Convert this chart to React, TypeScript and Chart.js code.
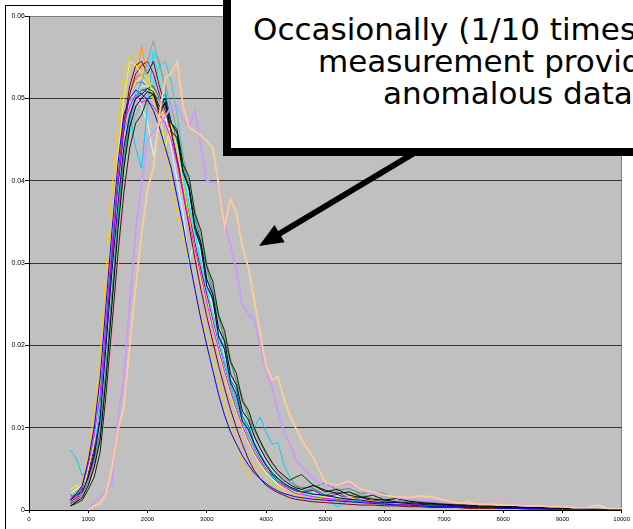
import React, { useEffect, useRef } from 'react';
import { Chart, registerables } from 'chart.js';

Chart.register(...registerables);

// x positions of the measurements
const X_VALUES = [
  700, 800, 900, 1000, 1100, 1200, 1300, 1400, 1500, 1600,
  1700, 1800, 1900, 2000, 2100, 2200, 2300, 2400, 2500, 2600,
  2700, 2800, 2900, 3000, 3100, 3200, 3300, 3400, 3500, 3600,
  3700, 3800, 3900, 4000, 4100, 4200, 4300, 4400, 4500, 4600,
  4800, 5000, 5200, 5400, 5600, 5800, 6000, 6200, 6400, 6600,
  6800, 7000, 7200, 7400, 7600, 7800, 8000, 8200, 8400, 8600,
  8800, 9000, 9200, 9400, 9600, 9800, 10000,
];

const X_TICK_LABELS = ['0', '1000', '2000', '3000', '4000', '5000', '6000', '7000', '8000', '9000', '10000'];
const Y_TICK_LABELS = ['0', '0.01', '0.02', '0.03', '0.04', '0.05', '0.06'];

// all series values below in units of 0.0001
const VALUE_UNIT = 0.0001;

const runNavy = [
  12, 18, 22, 40, 65, 110, 200, 290, 370, 440,
  480, 500, 505, 512, 508, 490, 500, 470, 458, 412,
  392, 342, 320, 272, 258, 210, 195, 155, 140, 108,
  98, 80, 66, 54, 44, 38, 32, 28, 25, 22,
  19, 18, 15, 13, 12, 10, 9, 9, 8, 7,
  6, 6, 5, 4, 4, 4, 3, 3, 3, 2,
  2, 2, 2, 1, 1, 1, 1,
];
const runMagenta = [
  20, 10, 30, 55, 90, 140, 230, 320, 400, 470,
  490, 505, 495, 498, 490, 480, 470, 450, 420, 385,
  350, 318, 285, 252, 222, 195, 168, 144, 122, 102,
  85, 70, 58, 48, 40, 33, 28, 24, 20, 19,
  16, 14, 13, 11, 10, 9, 8, 7, 7, 6,
  5, 5, 4, 4, 3, 3, 3, 3, 2, 2,
  2, 2, 1, 1, 1, 1, 1,
];
const runYellow = [
  25, 30, 20, 50, 85, 150, 250, 345, 430, 500,
  545, 540, 530, 525, 505, 480, 440, 470, 440, 395,
  355, 318, 280, 255, 225, 192, 165, 140, 120, 100,
  82, 68, 55, 45, 38, 30, 27, 24, 20, 22,
  18, 16, 14, 15, 12, 11, 9, 8, 9, 7,
  6, 6, 5, 11, 5, 4, 3, 3, 3, 4,
  2, 2, 2, 2, 1, 1, 1,
];
const runCyan = [
  18, 22, 28, 50, 80, 120, 200, 290, 380, 440,
  480, 505, 520, 535, 560, 520, 500, 470, 440, 405,
  370, 335, 300, 268, 236, 206, 178, 150, 128, 108,
  90, 74, 60, 50, 41, 34, 29, 25, 22, 20,
  17, 15, 14, 12, 11, 10, 9, 8, 7, 6,
  6, 5, 5, 4, 4, 3, 3, 3, 2, 2,
  2, 2, 2, 1, 1, 1, 1,
];
const runPurple = [
  10, 15, 25, 45, 75, 115, 205, 300, 390, 460,
  505, 530, 540, 545, 530, 505, 485, 460, 425, 392,
  358, 325, 292, 262, 232, 204, 176, 150, 128, 108,
  90, 75, 61, 50, 42, 35, 30, 26, 23, 21,
  24, 16, 19, 13, 15, 11, 10, 9, 8, 7,
  6, 6, 5, 5, 4, 4, 3, 3, 3, 2,
  2, 2, 2, 2, 1, 1, 1,
];
const runMaroon = [
  8, 12, 20, 40, 70, 120, 210, 310, 400, 470,
  515, 540, 545, 530, 545, 515, 490, 460, 425, 385,
  345, 305, 268, 235, 205, 175, 148, 122, 100, 80,
  62, 48, 38, 30, 25, 21, 18, 15, 13, 12,
  10, 9, 8, 7, 6, 6, 5, 5, 4, 4,
  3, 3, 3, 2, 2, 2, 2, 2, 1, 1,
  1, 1, 1, 1, 1, 0, 0,
];
const runTeal = [
  15, 20, 25, 40, 60, 95, 170, 260, 350, 425,
  475, 500, 510, 512, 515, 500, 505, 470, 458, 410,
  390, 340, 320, 272, 255, 212, 196, 158, 146, 114,
  102, 82, 68, 56, 46, 39, 33, 28, 25, 22,
  26, 18, 22, 14, 17, 11, 13, 9, 10, 7,
  8, 6, 6, 5, 5, 4, 4, 3, 3, 3,
  2, 2, 2, 2, 2, 1, 1,
];
const runBlue = [
  12, 20, 30, 60, 100, 160, 250, 340, 420, 480,
  500, 510, 505, 498, 485, 465, 440, 415, 380, 345,
  305, 268, 232, 200, 170, 140, 115, 95, 80, 66,
  55, 45, 38, 32, 27, 23, 20, 18, 16, 15,
  13, 12, 11, 10, 9, 8, 7, 6, 6, 5,
  4, 4, 4, 3, 3, 3, 2, 2, 2, 2,
  1, 1, 1, 1, 1, 0, 0,
];
const runSky = [
  73, 62, 42, 48, 60, 130, 230, 320, 400, 460,
  480, 440, 415, 490, 555, 545, 510, 470, 440, 410,
  372, 338, 300, 265, 235, 205, 180, 155, 135, 115,
  98, 100, 113, 95, 80, 82, 55, 40, 30, 25,
  20, 15, 4, 12, 11, 10, 8, 7, 6, 5,
  5, 4, 4, 3, 3, 3, 2, 2, 2, 2,
  1, 1, 1, 1, 1, 1, 1,
];
const runTurquoise = [
  10, 15, 25, 50, 85, 130, 215, 305, 395, 460,
  500, 505, 490, 470, 430, 470, 480, 440, 400, 360,
  300, 330, 290, 258, 228, 200, 172, 148, 126, 106,
  88, 73, 60, 49, 41, 34, 29, 25, 22, 20,
  18, 16, 14, 13, 12, 10, 9, 8, 8, 7,
  6, 6, 5, 5, 4, 4, 3, 3, 3, 2,
  2, 2, 2, 2, 1, 1, 1,
];
const runLightGreen = [
  10, 12, 20, 38, 62, 95, 175, 270, 360, 430,
  480, 505, 515, 515, 510, 500, 488, 470, 440, 410,
  378, 342, 308, 276, 246, 216, 188, 162, 140, 119,
  100, 84, 70, 58, 48, 40, 34, 29, 26, 23,
  21, 19, 17, 15, 14, 13, 12, 11, 10, 9,
  8, 8, 7, 6, 6, 5, 5, 4, 4, 3,
  3, 3, 2, 3, 6, 2, 1,
];
const runLightYellow = [
  20, 25, 30, 50, 80, 120, 200, 295, 385, 455,
  500, 520, 525, 515, 505, 492, 475, 452, 420, 388,
  352, 318, 285, 252, 222, 194, 168, 142, 121, 100,
  84, 68, 56, 46, 38, 32, 27, 24, 21, 19,
  17, 15, 14, 12, 11, 10, 9, 8, 8, 7,
  6, 6, 5, 5, 4, 4, 3, 3, 3, 2,
  2, 2, 2, 2, 1, 1, 1,
];
const runPaleBlue = [
  15, 18, 22, 42, 68, 105, 185, 280, 368, 440,
  490, 515, 525, 528, 520, 508, 495, 475, 445, 415,
  380, 346, 312, 280, 250, 220, 192, 165, 142, 120,
  101, 85, 70, 58, 48, 40, 34, 29, 26, 23,
  21, 18, 16, 15, 13, 12, 11, 10, 9, 8,
  7, 7, 6, 5, 5, 4, 4, 4, 3, 3,
  3, 2, 2, 2, 2, 1, 1,
];
const runRose = [
  5, 8, 12, 25, 45, 70, 120, 200, 290, 370,
  430, 470, 495, 505, 500, 495, 485, 470, 448, 420,
  390, 360, 328, 296, 265, 235, 206, 180, 155, 132,
  112, 95, 80, 66, 55, 46, 39, 33, 28, 24,
  22, 20, 18, 17, 15, 14, 13, 12, 11, 10,
  9, 8, 8, 7, 9, 12, 15, 8, 5, 4,
  3, 3, 2, 2, 2, 1, 1,
];
const runGold = [
  10, 20, 35, 70, 120, 190, 290, 390, 470, 530,
  552, 550, 540, 520, 495, 465, 435, 400, 360, 330,
  300, 268, 238, 208, 182, 155, 125, 100, 80, 55,
  40, 55, 45, 38, 32, 27, 23, 20, 18, 16,
  14, 12, 11, 10, 9, 8, 7, 6, 6, 5,
  5, 4, 4, 3, 3, 3, 2, 2, 2, 2,
  1, 1, 1, 1, 1, 1, 1,
];
const runOrange = [
  15, 20, 25, 45, 75, 120, 205, 300, 390, 455,
  495, 515, 565, 520, 500, 490, 475, 455, 425, 395,
  360, 325, 290, 260, 230, 200, 172, 148, 125, 105,
  88, 72, 60, 48, 40, 34, 28, 25, 22, 20,
  18, 16, 14, 13, 12, 11, 10, 9, 8, 7,
  6, 6, 5, 5, 4, 4, 4, 3, 3, 3,
  2, 2, 2, 2, 1, 1, 1,
];
const runDarkOrange = [
  12, 15, 28, 48, 78, 125, 215, 310, 398, 465,
  505, 525, 530, 522, 512, 498, 480, 458, 428, 395,
  360, 326, 292, 262, 232, 202, 175, 150, 128, 108,
  90, 74, 61, 50, 42, 35, 30, 26, 23, 21,
  19, 17, 15, 14, 13, 12, 11, 10, 9, 8,
  7, 7, 6, 5, 5, 4, 4, 3, 3, 3,
  2, 2, 2, 2, 1, 1, 1,
];
const runGray = [
  5, 10, 18, 35, 58, 90, 165, 255, 345, 420,
  470, 500, 520, 545, 570, 540, 515, 490, 460, 430,
  398, 365, 332, 300, 270, 240, 212, 185, 160, 138,
  118, 100, 84, 70, 58, 48, 40, 34, 29, 25,
  30, 22, 26, 18, 20, 14, 16, 11, 13, 9,
  10, 8, 7, 6, 6, 5, 5, 4, 4, 3,
  3, 3, 2, 2, 2, 1, 1,
];
const runSeaGreen = [
  8, 12, 20, 35, 58, 92, 170, 262, 352, 428,
  478, 502, 510, 508, 505, 498, 488, 472, 448, 420,
  390, 358, 325, 294, 264, 234, 206, 180, 156, 134,
  114, 97, 82, 68, 57, 48, 40, 34, 30, 27,
  28, 33, 24, 26, 20, 22, 20, 14, 12, 10,
  9, 8, 7, 6, 5, 5, 4, 4, 3, 3,
  3, 2, 2, 2, 2, 1, 1,
];
const runDarkGreen = [
  5, 8, 12, 25, 40, 70, 140, 225, 310, 385,
  440, 470, 480, 500, 505, 480, 495, 470, 462, 420,
  405, 360, 340, 296, 278, 236, 218, 180, 166, 132,
  122, 100, 84, 70, 58, 48, 42, 36, 40, 43,
  30, 22, 25, 18, 15, 18, 12, 10, 9, 8,
  7, 6, 6, 5, 5, 4, 4, 4, 3, 4,
  3, 2, 2, 2, 2, 1, 1,
];
const runBlack = [
  5, 10, 15, 30, 52, 85, 160, 250, 340, 415,
  465, 490, 500, 508, 505, 485, 495, 460, 452, 410,
  392, 345, 325, 280, 262, 220, 205, 165, 152, 120,
  110, 90, 75, 62, 51, 43, 36, 31, 27, 25,
  30, 24, 20, 22, 16, 13, 12, 14, 11, 9,
  8, 7, 6, 6, 5, 5, 4, 4, 3, 3,
  3, 2, 2, 2, 2, 1, 1,
];
const runRoyalBlue = [
  10, 15, 25, 48, 80, 125, 215, 310, 398, 462,
  500, 518, 520, 515, 505, 492, 475, 452, 422, 390,
  355, 320, 286, 255, 225, 196, 170, 145, 124, 104,
  87, 72, 59, 48, 40, 34, 29, 25, 22, 20,
  18, 16, 14, 13, 12, 11, 10, 9, 8, 7,
  6, 6, 5, 5, 4, 4, 3, 3, 3, 2,
  2, 2, 2, 1, 1, 1, 1,
];
const runAqua = [
  10, 15, 22, 40, 65, 100, 180, 270, 355, 420,
  460, 480, 495, 505, 515, 540, 545, 520, 480, 430,
  390, 352, 316, 282, 250, 220, 192, 165, 142, 120,
  101, 85, 70, 58, 48, 40, 34, 29, 26, 23,
  21, 18, 16, 15, 13, 12, 11, 10, 9, 8,
  7, 7, 6, 5, 5, 4, 4, 4, 3, 3,
  3, 2, 2, 2, 2, 1, 1,
];
// the anomalous measurements
const runAnomalyLavender = [
  null, null, null, 0, 10, 15, 22, 33, 110, 160,
  250, 340, 395, 450, 460, 468, 478, 490, 492, 475,
  465, 486, 440, 400, 398, 397, 350, 322, 290, 250,
  238, 232, 200, 168, 150, 120, 95, 80, 62, 52,
  38, 28, 30, 32, 24, 20, 18, 15, 13, 12,
  11, 10, 9, 8, 7, 7, 6, 6, 5, 5,
  4, 4, 3, 3, 3, 2, 2,
];
const runAnomalyPeach = [
  null, null, null, 0, 5, 8, 20, 50, 97, 125,
  200, 270, 335, 390, 415, 480, 525, 530, 545, 490,
  465, 460, 455, 448, 440, 395, 345, 378, 360, 320,
  295, 255, 215, 175, 158, 162, 135, 115, 100, 85,
  63, 33, 30, 35, 25, 22, 18, 16, 15, 17,
  16, 12, 9, 8, 7, 7, 6, 6, 5, 5,
  4, 4, 3, 3, 3, 2, 2,
];

type Series = { label: string; color: string; width: number; values: (number | null)[] };

const SERIES: Series[] = [
  { label: 'Run A', color: '#FFCC99', width: 1.8, values: runAnomalyPeach },
  { label: 'Run B', color: '#CC99FF', width: 1.8, values: runAnomalyLavender },
  { label: 'Run 1', color: '#000000', width: 1, values: runBlack },
  { label: 'Run 2', color: '#003300', width: 1, values: runDarkGreen },
  { label: 'Run 3', color: '#000080', width: 1, values: runNavy },
  { label: 'Run 4', color: '#969696', width: 1, values: runGray },
  { label: 'Run 5', color: '#339966', width: 1, values: runSeaGreen },
  { label: 'Run 6', color: '#0000FF', width: 1, values: runBlue },
  { label: 'Run 7', color: '#FF00FF', width: 1, values: runMagenta },
  { label: 'Run 8', color: '#FFFF00', width: 1, values: runYellow },
  { label: 'Run 9', color: '#00FFFF', width: 1, values: runCyan },
  { label: 'Run 10', color: '#800080', width: 1, values: runPurple },
  { label: 'Run 11', color: '#800000', width: 1, values: runMaroon },
  { label: 'Run 12', color: '#008080', width: 1, values: runTeal },
  { label: 'Run 13', color: '#00CCFF', width: 1, values: runSky },
  { label: 'Run 14', color: '#CCFFFF', width: 1, values: runTurquoise },
  { label: 'Run 15', color: '#CCFFCC', width: 1, values: runLightGreen },
  { label: 'Run 16', color: '#FFFF99', width: 1, values: runLightYellow },
  { label: 'Run 17', color: '#99CCFF', width: 1, values: runPaleBlue },
  { label: 'Run 18', color: '#FF99CC', width: 1, values: runRose },
  { label: 'Run 19', color: '#FFCC00', width: 1, values: runGold },
  { label: 'Run 20', color: '#FF9900', width: 1, values: runOrange },
  { label: 'Run 21', color: '#FF6600', width: 1, values: runDarkOrange },
  { label: 'Run 22', color: '#3366FF', width: 1, values: runRoyalBlue },
  { label: 'Run 23', color: '#33CCCC', width: 1, values: runAqua },
];

const NOTE_LINES = ['Occasionally (1/10 times) a', 'measurement provides', 'anomalous data'];

export default function App() {
  const ref = useRef<HTMLCanvasElement>(null);

  useEffect(() => {
    const canvas = ref.current;
    if (!canvas) return;

    const plotBackground = {
      id: 'plotBackground',
      beforeDraw(chart: any) {
        const { ctx, chartArea: a } = chart;
        ctx.save();
        ctx.fillStyle = '#C0C0C0';
        ctx.fillRect(a.left, a.top, a.right - a.left, a.bottom - a.top);
        ctx.strokeStyle = '#808080';
        ctx.lineWidth = 1;
        ctx.beginPath();
        const rx = Math.round(a.right) - 0.5;
        ctx.moveTo(rx, a.top);
        ctx.lineTo(rx, a.bottom);
        ctx.stroke();
        ctx.strokeStyle = '#000000';
        ctx.strokeRect(5.5, 5.5, 900, 900);
        ctx.restore();
      },
    };

    const chart = new Chart(canvas, {
      type: 'line',
      data: {
        labels: X_VALUES,
        datasets: SERIES.map((s) => ({
          label: s.label,
          data: s.values.map((v) => (v == null ? null : v * VALUE_UNIT)),
          borderColor: s.color,
          backgroundColor: s.color,
          borderWidth: s.width,
          pointRadius: 0,
          pointHoverRadius: 0,
          tension: 0,
          fill: false,
          spanGaps: false,
        })),
      },
      options: {
        responsive: false,
        animation: false,
        devicePixelRatio: 1,
        events: [],
        layout: { padding: { top: 16, right: 10, left: 0, bottom: 0 } },
        plugins: { legend: { display: false }, tooltip: { enabled: false } },
        scales: {
          x: {
            type: 'linear',
            min: 0,
            max: 10000,
            afterFit(scale: any) {
              scale.height = 19;
            },
            ticks: {
              stepSize: 1000,
              autoSkip: false,
              maxRotation: 0,
              padding: 3,
              color: '#000000',
              font: { family: 'Liberation Sans', size: 6 },
              callback: (_v: any, i: number) => X_TICK_LABELS[i],
            },
            grid: { drawOnChartArea: false, tickLength: 3, color: '#000000' },
            border: { color: '#000000' },
          },
          y: {
            min: 0,
            max: 0.06,
            afterFit(scale: any) {
              scale.width = 29;
            },
            ticks: {
              stepSize: 0.01,
              padding: 0,
              color: '#000000',
              font: { family: 'Liberation Sans', size: 7 },
              callback: (_v: any, i: number) => Y_TICK_LABELS[i],
            },
            grid: {
              color: (ctx: any) => (ctx.index === 6 ? '#808080' : '#333333'),
              tickColor: '#000000',
              tickLength: 4,
            },
            border: { color: '#000000' },
          },
        },
      },
      plugins: [plotBackground],
    });

    return () => chart.destroy();
  }, []);

  const lineStyle = (left: number, top: number): React.CSSProperties => ({
    position: 'absolute',
    left,
    top,
    fontFamily: '"DejaVu Sans", sans-serif',
    fontSize: 31,
    lineHeight: '32px',
    whiteSpace: 'nowrap',
    color: '#000',
  });

  return (
    <div
      style={{
        position: 'fixed',
        left: 0,
        top: 0,
        width: 633,
        height: 529,
        overflow: 'hidden',
        background: '#fff',
      }}
    >
      <canvas
        ref={ref}
        width={633}
        height={529}
        style={{ position: 'absolute', left: 0, top: 0, width: 633, height: 529 }}
      />
      <svg
        width={633}
        height={529}
        style={{ position: 'absolute', left: 0, top: 0 }}
      >
        <line x1={431} y1={143} x2={279} y2={234} stroke="#000" strokeWidth={6} />
        <polygon points="259,246 274.5,225.1 284.7,242.3" fill="#000" />
      </svg>
      <div
        style={{
          position: 'absolute',
          left: 223,
          top: -20,
          width: 700,
          height: 176,
          boxSizing: 'border-box',
          background: '#fff',
          borderLeft: '8px solid #000',
          borderBottom: '8px solid #000',
        }}
      />
      <div style={lineStyle(253, 12.6)}>{NOTE_LINES[0]}</div>
      <div style={lineStyle(318, 45)}>{NOTE_LINES[1]}</div>
      <div style={lineStyle(383, 76.6)}>{NOTE_LINES[2]}</div>
    </div>
  );
}
